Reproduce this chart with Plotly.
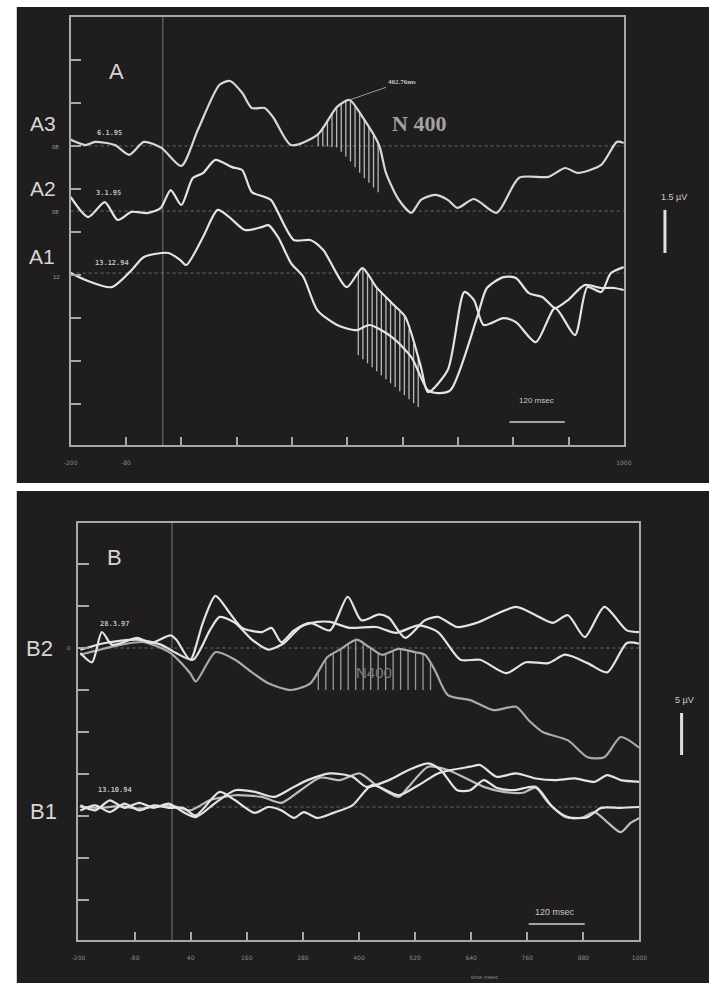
import numpy as np
import plotly.graph_objects as go

W, H = 717, 985
BG = "#1f1d1e"
FRAME = "#a8a8a8"
BRIGHT = "#e4e4e4"
GREY = "#aaaaaa"

# ---------------- Panel A data (time in ms, amplitude in µV rel. to own baseline) ----------------
a3_ms = [-200, -168, -147, -104, -73, -41, -3, 40, 76, 123, 146, 172, 193, 221, 240, 278, 335, 378, 405, 433,
         469, 484, 512, 539, 560, 590, 618, 639, 675, 724, 773, 836, 873, 900, 951, 985, 1000]
a3_uv = [0.21, 0.03, 0.14, 0.03, -0.31, 0.14, -0.07, -0.70, 0.56, 2.13, 2.26, 1.85, 1.32, 1.32, 0.98, 0.03, 0.38, 1.36, 1.60, 1.01,
         0.03, -0.94, -1.88, -2.33, -1.88, -1.71, -1.88, -2.16, -1.85, -2.33, -1.11, -1.08, -0.77, -0.94, -0.66, 0.14, 0.10]

a2_ms = [-200, -162, -126, -98, -68, -34, -5, 17, 40, 65, 87, 114, 150, 172, 193, 221, 235, 284, 320, 348,
         399, 433, 463, 497, 526, 560, 575, 618, 654, 675, 696, 739, 766, 809, 851, 894, 921, 951, 972, 1000]
a2_uv = [0.49, -0.21, 0.31, -0.31, -0.03, -0.07, 0.10, 0.73, 0.21, 1.15, 1.32, 1.78, 1.53, 1.43, 0.66, 0.49, 0.38, -1.01, -1.01, -1.36,
         -2.65, -1.99, -2.65, -3.21, -3.69, -5.44, -6.31, -5.54, -2.82, -3.10, -3.97, -3.73, -3.87, -4.57, -3.38, -4.32, -2.65, -2.82, -2.16, -1.95]

a1_ms = [-200, -168, -111, -68, -41, 12, 38, 51, 87, 119, 144, 178, 214, 229, 250, 278, 305, 335, 378, 420,
         448, 497, 539, 575, 596, 624, 682, 703, 739, 766, 794, 824, 851, 879, 915, 951, 979, 1000]
a1_uv = [0.00, -0.24, -0.49, 0.10, 0.56, 0.70, 0.45, 0.28, 1.25, 2.20, 1.95, 1.50, 1.60, 1.67, 1.25, 0.35, -0.14, -1.29, -1.81, -1.99,
         -1.81, -2.23, -2.93, -4.08, -4.18, -4.08, -1.53, -0.52, -0.14, -0.17, -0.70, -0.84, -1.22, -0.94, -0.42, -0.52, -0.52, -0.59]

# hatch floors (µV rel. to the hatched trace's baseline)
a3_floor_ms = [335, 378, 405, 430, 475]
a3_floor_uv = [0.0, -0.05, -0.5, -1.0, -1.75]
a3_hatch_ms = list(range(337, 476, 10))
a2_floor_ms = [422, 554]
a2_floor_uv = [-5.0, -6.83]
a2_hatch_ms = list(range(424, 556, 10))

# ---------------- Panel B data ----------------
b2a_ms = [-196, -171, -150, -129, -108, -74, -45, -3, 9, 39, 66, 93, 123, 150, 192, 213, 234, 261, 296, 338,
          376, 405, 443, 464, 499, 541, 569, 610, 652, 736, 778, 814, 847, 883, 925, 973, 1000]
b2a_uv = [-0.6, -1.7, 1.9, 0.4, 0.6, 1.2, 0.6, 1.5, 1.0, -1.4, 3.0, 6.2, 4.2, 2.4, 1.9, 2.4, 0.7, 2.1, 3.0, 2.1,
          6.1, 3.3, 4.0, 3.6, 1.2, 3.3, 3.7, 2.5, 3.0, 4.9, 3.9, 3.0, 3.9, 1.3, 4.9, 2.1, 1.9]

b2b_ms = [-196, -143, -74, -24, 9, 45, 81, 102, 135, 171, 206, 240, 275, 311, 338, 380, 437, 479, 527, 569,
          617, 659, 715, 757, 805, 841, 889, 931, 973, 1000]
b2b_uv = [-0.2, 0.6, 1.0, 0.4, -0.6, -1.4, 2.1, 3.7, 3.0, 1.0, -0.2, 0.6, 2.5, 3.1, 3.1, 2.4, 2.5, 1.8, 2.7, 1.9,
          -1.4, -1.4, -3.0, -1.7, -1.8, -0.8, -1.8, -2.9, 0.6, 0.5]

b2c_ms = [-196, -108, -60, -3, 39, 51, 93, 135, 171, 206, 254, 296, 332, 359, 395, 422, 449, 485, 520, 541,
          562, 590, 638, 688, 736, 763, 793, 847, 889, 925, 960, 1000]
b2c_uv = [-0.8, 0.4, 0.7, -0.6, -3.0, -4.0, -0.5, -1.4, -2.9, -4.2, -5.0, -4.2, -1.1, -0.2, 1.0, 0.1, -0.8, -0.1, -0.5, -0.8,
          -2.6, -5.6, -6.2, -7.4, -7.0, -8.6, -10.0, -11.0, -13.0, -13.0, -10.6, -11.9]
b2_floor_uv = -5.0
b2_hatch_ms = list(range(313, 554, 16))

b1a_ms = [-196, -164, -133, -102, -70, -39, -7, 24, 51, 93, 135, 177, 219, 261, 290, 338, 386, 416, 464, 506,
          548, 575, 610, 638, 667, 694, 730, 778, 814, 847, 889, 918, 960, 1000]
b1a_uv = [0.2, -0.4, 0.8, -0.1, 0.5, -0.1, 0.4, -0.6, -1.2, 0.5, 2.0, 1.8, 1.2, 2.4, 3.2, 4.0, 3.6, 2.4, 3.2, 4.4,
          5.2, 4.4, 2.0, 2.0, 3.2, 2.3, 2.0, 2.4, 0.0, -1.2, -1.2, -0.1, -0.1, 0.0]

b1b_ms = [-196, -164, -133, -102, -70, -39, -7, 24, 51, 102, 135, 177, 206, 234, 261, 282, 311, 345, 386, 428,
          485, 527, 569, 596, 638, 659, 694, 736, 778, 820, 862, 904, 931, 960, 1000]
b1b_uv = [-0.4, 0.2, -0.6, 0.4, -0.4, 0.2, -0.1, -0.1, -1.0, 1.8, 0.8, -0.7, 0.0, -0.4, -1.3, -0.6, -1.3, -0.7, 0.2, 2.6,
          1.4, 2.6, 4.0, 4.4, 4.8, 5.0, 3.6, 4.0, 3.4, 3.2, 3.4, 3.0, 3.8, 3.2, 3.0]

b1c_ms = [-196, -154, -112, -70, -28, 3, 39, 81, 135, 192, 234, 275, 317, 359, 401, 437, 485, 506, 548, 590,
          667, 709, 751, 778, 805, 841, 876, 904, 931, 960, 981, 1000]
b1c_uv = [0.0, -0.1, 0.1, -0.2, 0.1, 0.1, -0.4, 0.8, 1.4, 1.2, 0.5, 2.0, 3.5, 3.2, 4.0, 2.6, 1.2, 2.4, 4.8, 4.4,
          2.4, 1.8, 1.7, 2.3, 0.5, -1.2, -1.3, -0.6, -1.8, -3.0, -1.9, -1.3]

# ---------------- axes / offsets / labels ----------------
x_range = [-200, 1000]
x_tickvals = list(range(-200, 1001, 120))
a_ticktext = ["-200", "-80"] + [""] * 8 + ["1000"]
b_ticktext = [str(v) for v in x_tickvals]
stim_onset_ms = 0

A1_OFF, A2_OFF, A3_OFF = 0.0, 2.16, 4.43
A_YRANGE = [-5.99, 8.92]
B1_OFF, B2_OFF = 0.0, 18.93
B_YRANGE = [-15.83, 33.81]

a_scale_uv = 1.5
b_scale_uv = 5.0
a_bar_ms = [752, 872]
a_bar_uv = -5.19
b_bar_ms = [763, 883]
b_bar_uv = -13.93
n400_peak_ms = 405
n400_peak_uv = 1.60

fig = go.Figure()


def curve(xs, ys, off, xa, ya, color=BRIGHT, width=2.2):
    fig.add_trace(go.Scatter(x=xs, y=[v + off for v in ys], mode="lines",
                             line=dict(color=color, width=width, shape="spline", smoothing=0.7),
                             xaxis=xa, yaxis=ya, hoverinfo="skip", showlegend=False))


def hline(off, xa, ya):
    fig.add_trace(go.Scatter(x=x_range, y=[off, off], mode="lines",
                             line=dict(color="#6a6a6a", width=1, dash="dot"),
                             xaxis=xa, yaxis=ya, hoverinfo="skip", showlegend=False))


def hatch(hx, top_ms, top_uv, floor_ms, floor_uv, off, xa, ya, color="#b8b8b8"):
    xs, ys = [], []
    for t in hx:
        top = float(np.interp(t, top_ms, top_uv)) + off
        if np.isscalar(floor_uv):
            bot = floor_uv + off
        else:
            bot = float(np.interp(t, floor_ms, floor_uv)) + off
        xs += [t, t, None]
        ys += [top, bot, None]
    fig.add_trace(go.Scatter(x=xs, y=ys, mode="lines", line=dict(color=color, width=1.3),
                             xaxis=xa, yaxis=ya, hoverinfo="skip", showlegend=False))


# --- panel A ---
for off in (A3_OFF, A2_OFF, A1_OFF):
    hline(off, "x", "y")
fig.add_trace(go.Scatter(x=[stim_onset_ms, stim_onset_ms], y=A_YRANGE, mode="lines",
                         line=dict(color="#7a7a7a", width=1), xaxis="x", yaxis="y",
                         hoverinfo="skip", showlegend=False))
hatch(a3_hatch_ms, a3_ms, a3_uv, a3_floor_ms, a3_floor_uv, A3_OFF, "x", "y")
hatch(a2_hatch_ms, a2_ms, a2_uv, a2_floor_ms, a2_floor_uv, A2_OFF, "x", "y")
curve(a3_ms, a3_uv, A3_OFF, "x", "y", color="#d8d8d8")
curve(a2_ms, a2_uv, A2_OFF, "x", "y")
curve(a1_ms, a1_uv, A1_OFF, "x", "y")
fig.add_trace(go.Scatter(x=a_bar_ms, y=[a_bar_uv, a_bar_uv], mode="lines",
                         line=dict(color="#cfcfcf", width=1.5), xaxis="x", yaxis="y",
                         hoverinfo="skip", showlegend=False))

# --- panel B ---
for off in (B2_OFF, B1_OFF):
    hline(off, "x2", "y2")
fig.add_trace(go.Scatter(x=[stim_onset_ms, stim_onset_ms], y=B_YRANGE, mode="lines",
                         line=dict(color="#7a7a7a", width=1), xaxis="x2", yaxis="y2",
                         hoverinfo="skip", showlegend=False))
hatch(b2_hatch_ms, b2c_ms, b2c_uv, None, b2_floor_uv, B2_OFF, "x2", "y2", color="#9a9a9a")
curve(b2c_ms, b2c_uv, B2_OFF, "x2", "y2", color=GREY)
curve(b2b_ms, b2b_uv, B2_OFF, "x2", "y2")
curve(b2a_ms, b2a_uv, B2_OFF, "x2", "y2")
curve(b1c_ms, b1c_uv, B1_OFF, "x2", "y2", color="#bdbdbd")
curve(b1b_ms, b1b_uv, B1_OFF, "x2", "y2")
curve(b1a_ms, b1a_uv, B1_OFF, "x2", "y2")
fig.add_trace(go.Scatter(x=b_bar_ms, y=[b_bar_uv, b_bar_uv], mode="lines",
                         line=dict(color="#cfcfcf", width=1.5), xaxis="x2", yaxis="y2",
                         hoverinfo="skip", showlegend=False))


def P(px, py):
    return px / W, 1 - py / H


axis_common = dict(showline=True, mirror=True, linecolor=FRAME, linewidth=1.5,
                   ticks="inside", tickcolor=FRAME, tickwidth=1.5,
                   showgrid=False, zeroline=False, fixedrange=True)

fig.update_layout(
    width=W, height=H,
    margin=dict(l=0, r=0, t=0, b=0),
    paper_bgcolor="white", plot_bgcolor=BG,
    showlegend=False,
    xaxis=dict(domain=[65 / W, 630 / W], range=x_range, anchor="y",
               tickvals=x_tickvals, ticktext=a_ticktext, ticklen=8,
               tickfont=dict(size=6, color="#8a8a8a", family="DejaVu Sans"),
               ticklabelstandoff=11, **axis_common),
    yaxis=dict(domain=[1 - 445 / H, 1 - 17 / H], range=A_YRANGE, anchor="x",
               tick0=A3_OFF, dtick=a_scale_uv, ticklen=11, showticklabels=False, **axis_common),
    xaxis2=dict(domain=[73 / W, 646 / W], range=x_range, anchor="y2",
                tickvals=x_tickvals, ticktext=b_ticktext, ticklen=8,
                tickfont=dict(size=6, color="#8a8a8a", family="DejaVu Sans"),
                ticklabelstandoff=11, **axis_common),
    yaxis2=dict(domain=[1 - 940 / H, 1 - 523 / H], range=B_YRANGE, anchor="x2",
                tick0=B2_OFF, dtick=b_scale_uv, ticklen=11, showticklabels=False, **axis_common),
)

# dark panels
for (y0, y1) in ((7, 483), (491, 983)):
    fig.add_shape(type="rect", xref="paper", yref="paper", x0=10 / W, x1=1,
                  y0=1 - y1 / H, y1=1 - y0 / H, fillcolor=BG, line_width=0, layer="below")

# amplitude scale bars (outside plot area)
fig.add_shape(type="line", xref="paper", yref="y", x0=672 / W, x1=672 / W,
              y0=0.70, y1=0.70 + a_scale_uv, line=dict(color="#e0e0e0", width=3))
fig.add_shape(type="line", xref="paper", yref="y2", x0=689 / W, x1=689 / W,
              y0=6.19, y1=6.19 + b_scale_uv, line=dict(color="#e0e0e0", width=3))

SANS = "Liberation Sans, Arial, sans-serif"
MONO = "DejaVu Sans Mono, monospace"


def txt(text, px, py, size, color="#d6d6d6", family=SANS, anchor="center"):
    x, y = P(px, py)
    fig.add_annotation(x=x, y=y, xref="paper", yref="paper", text=text, showarrow=False,
                       xanchor=anchor, yanchor="middle",
                       font=dict(size=size, color=color, family=family))


txt("A", 112, 71, 22)
txt("A3", 37, 123, 21)
txt("A2", 37, 188, 21)
txt("A1", 36, 256, 21)
txt("08", 50, 147, 6, "#9a9a9a")
txt("08", 50, 212, 6, "#9a9a9a")
txt("12", 51, 277, 6, "#9a9a9a")
txt("<b>6.1.95</b>", 105, 133, 7, "#bdbdbd", MONO)
txt("<b>3.1.95</b>", 104, 193, 7, "#bdbdbd", MONO)
txt("<b>13.12.94</b>", 107, 263, 7, "#bdbdbd", MONO)
txt("<b>N 400</b>", 421, 123, 22, "#a2a2a2", "Liberation Serif, Times New Roman, serif")
txt("1.5 µV", 681, 197, 9, "#c8c8c8")
txt("120 msec", 541, 401, 8, "#c8c8c8")

fig.add_annotation(x=n400_peak_ms, y=n400_peak_uv + A3_OFF, xref="x", yref="y",
                   text="<b>402.76ms</b>", showarrow=True, arrowhead=0, arrowwidth=1,
                   arrowcolor="#9a9a9a", ax=52, ay=-18, standoff=0,
                   font=dict(size=7, color="#c4c4c4", family="Liberation Serif, serif"))

txt("B", 110, 557, 22)
txt("B2", 33, 648, 22)
txt("B1", 37, 811, 22)
txt("0", 63, 648, 6, "#9a9a9a")
txt("<b>28.3.97</b>", 110, 624, 7, "#bdbdbd", MONO)
txt("<b>13.10.94</b>", 110, 790, 7, "#bdbdbd", MONO)
txt("N400", 375, 672, 15, "#7c7c7c")
txt("5 µV", 692, 700, 9, "#c8c8c8")
txt("120 msec", 560, 912, 9, "#c8c8c8")
txt("time msec", 488, 977, 6, "#8a8a8a")

fig.write_html(
    "out.html",
    config={"displayModeBar": False},
    post_script="document.body.style.margin='0';document.body.style.padding='0';"
                "document.body.style.overflow='hidden';",
)
